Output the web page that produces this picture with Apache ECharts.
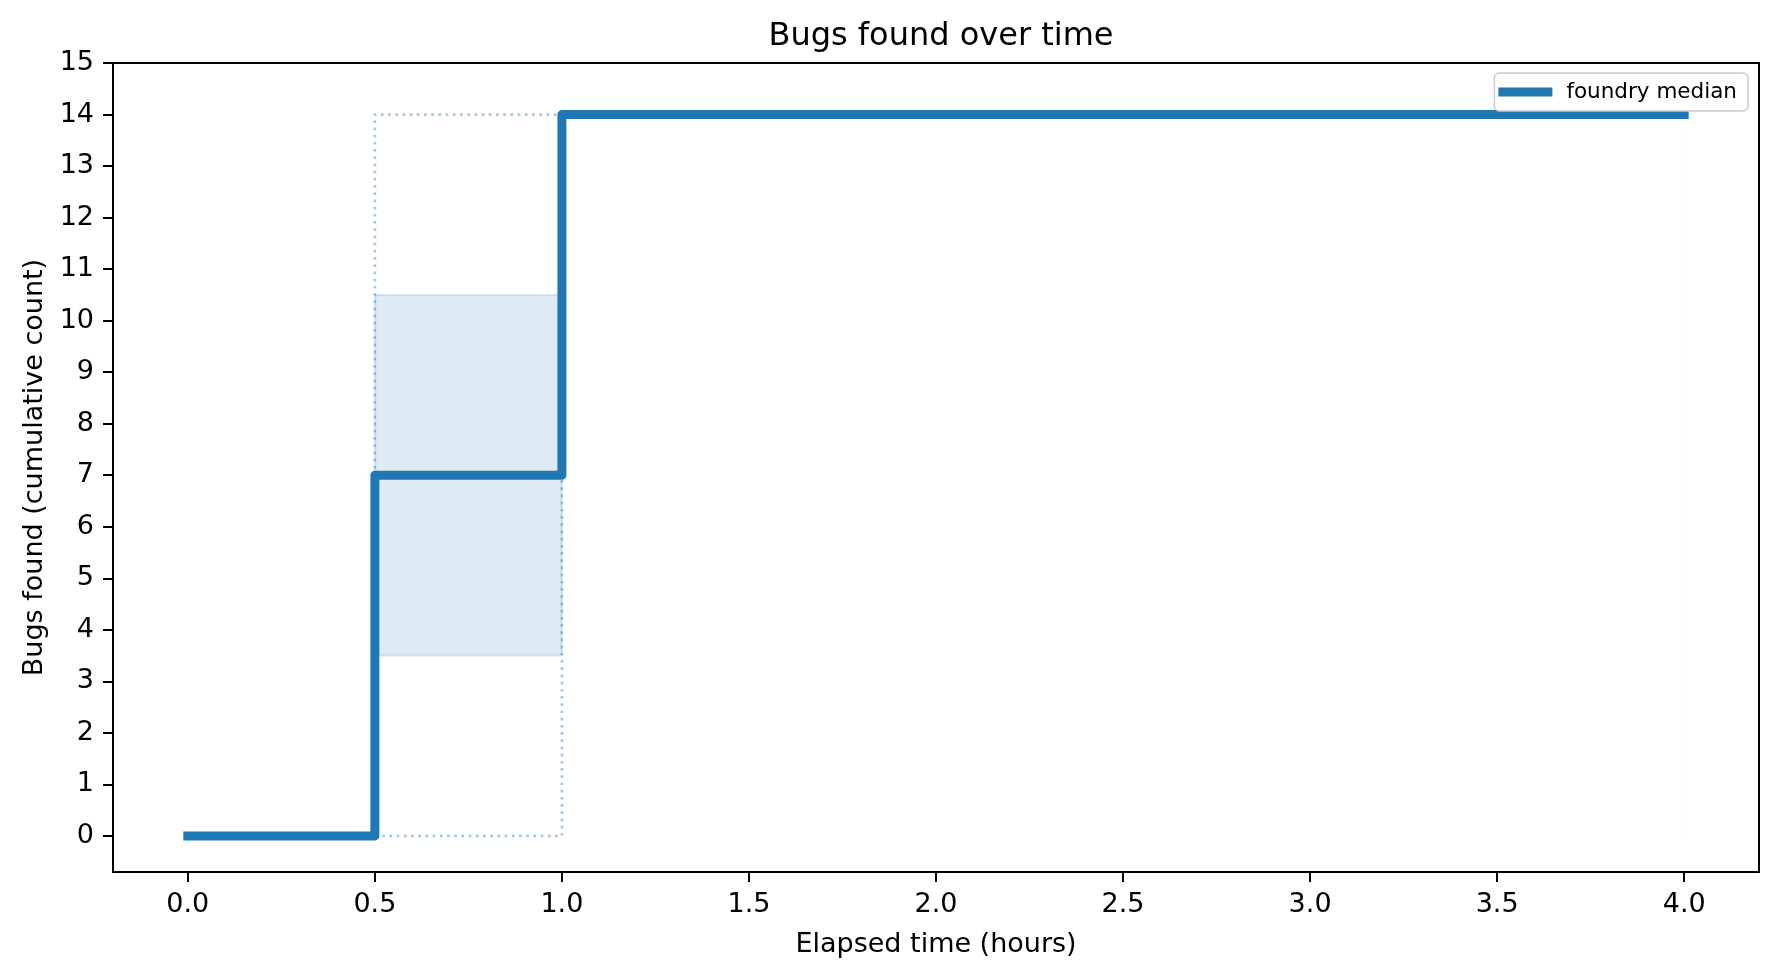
<!DOCTYPE html>
<html>
<head>
<meta charset="utf-8">
<title>Bugs found over time</title>
<script src="https://cdn.jsdelivr.net/npm/echarts@6/dist/echarts.min.js"></script>
<style>
	html, body { margin: 0; padding: 0; background: #fff; }
	#chart { width: 1779px; height: 978px; }
</style>
</head>
<body>
<div id="chart"></div>
<script>
// 数据
var times = [0, 0.5, 1.0, 4.0];
var medianBugs = [0, 7, 14, 14];
var minBugs = [0, 0, 14, 14];
var maxBugs = [0, 14, 14, 14];
var lowerBand = [0, 3.5, 14, 14];
var upperBand = [0, 10.5, 14, 14];
var xTicks = [0, 0.5, 1.0, 1.5, 2.0, 2.5, 3.0, 3.5, 4.0];
var yTicks = [0, 1, 2, 3, 4, 5, 6, 7, 8, 9, 10, 11, 12, 13, 14, 15];

var blue = '#1f77b4';
var font = 'DejaVu Sans';

function pairs(ys) {
	return times.map(function (t, i) { return [t, ys[i]]; });
}

var option = {
	animation: false,
	backgroundColor: '#fff',
	textStyle: { fontFamily: font, color: '#000' },
	title: {
		text: 'Bugs found over time',
		left: 936,
		textAlign: 'center',
		top: 16,
		textStyle: { fontFamily: font, fontSize: 32, fontWeight: 'normal', color: '#000' }
	},
	legend: {
		data: ['foundry median'],
		right: 31,
		top: 73,
		z: 10,
		icon: 'rect',
		itemWidth: 54,
		itemHeight: 9,
		padding: [8, 11, 8, 4],
		backgroundColor: 'rgba(255,255,255,0.8)',
		borderColor: '#cccccc',
		borderWidth: 1.5,
		borderRadius: 5,
		textStyle: { fontFamily: font, fontSize: 21.5, color: '#000', padding: [0, 0, 0, 9] }
	},
	grid: {
		left: 113,
		right: 20,
		top: 63,
		bottom: 106,
		show: true,
		borderColor: '#000',
		borderWidth: 2
	},
	xAxis: {
		type: 'value',
		min: -0.2,
		max: 4.2,
		name: 'Elapsed time (hours)',
		nameLocation: 'middle',
		nameGap: 59,
		nameTextStyle: { fontFamily: font, fontSize: 27, color: '#000' },
		splitLine: { show: false },
		axisLine: { show: true, onZero: false, lineStyle: { color: '#000', width: 2 } },
		axisTick: { show: true, length: 10, customValues: xTicks, lineStyle: { color: '#000', width: 2 } },
		axisLabel: {
			customValues: xTicks,
			margin: 19,
			fontFamily: font,
			fontSize: 27,
			color: '#000',
			formatter: function (v) { return v.toFixed(1); }
		}
	},
	yAxis: {
		type: 'value',
		min: -0.7,
		max: 15,
		name: 'Bugs found (cumulative count)',
		nameLocation: 'middle',
		nameGap: 65,
		nameTextStyle: { fontFamily: font, fontSize: 27, color: '#000' },
		splitLine: { show: false },
		axisLine: { show: true, onZero: false, lineStyle: { color: '#000', width: 2 } },
		axisTick: { show: true, length: 10, customValues: yTicks, lineStyle: { color: '#000', width: 2 } },
		axisLabel: {
			customValues: yTicks,
			margin: 19,
			fontFamily: font,
			fontSize: 27,
			color: '#000'
		}
	},
	series: [
		// 四分位带：上沿填充到 0
		{
			name: 'band high',
			type: 'line',
			step: 'end',
			symbol: 'none',
			data: pairs(upperBand),
			lineStyle: { color: 'rgba(31,119,180,0.15)', width: 2.5 },
			areaStyle: { color: 'rgba(31,119,180,0.15)', opacity: 1, origin: 0 }
		},
		// 下沿以下用白色盖掉
		{
			name: 'band low',
			type: 'line',
			step: 'end',
			symbol: 'none',
			data: pairs(lowerBand),
			lineStyle: { color: 'rgba(31,119,180,0.15)', width: 2.5 },
			areaStyle: { color: '#ffffff', opacity: 1, origin: 0 }
		},
		// 最小值
		{
			name: 'min',
			type: 'line',
			step: 'end',
			symbol: 'none',
			data: pairs(minBugs),
			lineStyle: { color: 'rgba(31,119,180,0.4)', width: 2.7, type: [2.7, 4.5], cap: 'butt' }
		},
		// 最大值
		{
			name: 'max',
			type: 'line',
			step: 'end',
			symbol: 'none',
			data: pairs(maxBugs),
			lineStyle: { color: 'rgba(31,119,180,0.4)', width: 2.7, type: [2.7, 4.5], cap: 'butt' }
		},
		// 中位数
		{
			name: 'foundry median',
			type: 'line',
			step: 'end',
			symbol: 'none',
			color: blue,
			data: pairs(medianBugs),
			lineStyle: { color: blue, width: 9, cap: 'square', join: 'round' }
		}
	]
};

var chart = echarts.init(document.getElementById('chart'));
chart.setOption(option);
window.addEventListener('resize', function () { chart.resize(); });
</script>
</body>
</html>
